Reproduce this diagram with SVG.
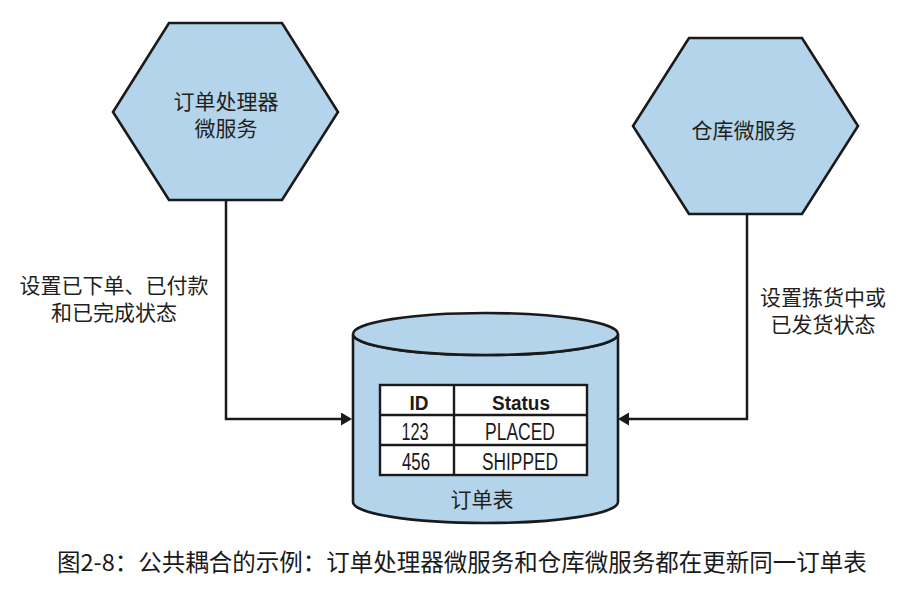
<svg xmlns="http://www.w3.org/2000/svg" width="919" height="594" viewBox="0 0 919 594">
<style>
.shape{fill:#b3d4ea;stroke:#1a1a1a;stroke-width:2.6;stroke-linejoin:miter}
.conn{fill:none;stroke:#1a1a1a;stroke-width:2.5}
.cjk{font-family:"Noto Sans CJK SC","Noto Sans",sans-serif;fill:#231f20;font-size:21px;text-anchor:middle}
.cap{font-family:"Noto Sans CJK SC","Noto Sans",sans-serif;fill:#1a1a1a;font-size:23.5px}
.tbl{font-family:"Liberation Sans","Noto Sans",sans-serif;fill:#1a1a1a;text-anchor:middle}
.hd{font-weight:bold;font-size:21px}
.rw{font-size:23px}
.cell{fill:#ffffff;stroke:#1a1a1a;stroke-width:2.4}
</style>
<defs>
<marker id="arrow" markerUnits="userSpaceOnUse" markerWidth="12" markerHeight="14" refX="3" refY="6.5" orient="auto">
<polygon points="0,0 11,6.5 0,13" fill="#1a1a1a"/>
</marker>
</defs>
<rect width="919" height="594" fill="#ffffff"/>
<g id="connectors">
<path class="conn" d="M226,200 V419 H344" marker-end="url(#arrow)"/>
<path class="conn" d="M747,214 V419 H626" marker-end="url(#arrow)"/>
<text class="cjk"><tspan x="114" y="293">设置已下单、已付款</tspan><tspan x="114" y="320">和已完成状态</tspan></text>
<text class="cjk"><tspan x="823" y="305">设置拣货中或</tspan><tspan x="823" y="332">已发货状态</tspan></text>
</g>
<g id="order-processor">
<polygon class="shape" points="169,23 282,23 338,112 282,200 169,200 113,112"/>
<text class="cjk"><tspan x="226" y="109">订单处理器</tspan><tspan x="226" y="136">微服务</tspan></text>
</g>
<g id="warehouse">
<polygon class="shape" points="689,38 802,38 858,126 802,214 689,214 633,126"/>
<text class="cjk" x="744" y="138">仓库微服务</text>
</g>
<g id="order-table">
<path class="shape" d="M353,334 V502 A132.5,21 0 0 0 618,502 V334 A132.5,21 0 0 1 353,334 Z"/>
<ellipse class="shape" cx="485.5" cy="334" rx="132.5" ry="21"/>
<rect class="cell" x="380" y="385" width="207" height="90"/>
<line x1="380" y1="415" x2="587" y2="415" stroke="#1a1a1a" stroke-width="2.4"/>
<line x1="380" y1="445" x2="587" y2="445" stroke="#1a1a1a" stroke-width="2.4"/>
<line x1="454" y1="385" x2="454" y2="475" stroke="#1a1a1a" stroke-width="2.4"/>
<text class="tbl hd" x="419" y="410" textLength="19" lengthAdjust="spacingAndGlyphs">ID</text>
<text class="tbl hd" x="521" y="410" textLength="58" lengthAdjust="spacingAndGlyphs">Status</text>
<text class="tbl rw" x="415" y="440" textLength="27" lengthAdjust="spacingAndGlyphs">123</text>
<text class="tbl rw" x="520" y="440" textLength="70" lengthAdjust="spacingAndGlyphs">PLACED</text>
<text class="tbl rw" x="416" y="470" textLength="28" lengthAdjust="spacingAndGlyphs">456</text>
<text class="tbl rw" x="520" y="470" textLength="76" lengthAdjust="spacingAndGlyphs">SHIPPED</text>
<text class="cjk" x="482" y="507">订单表</text>
</g>
<text class="cap" x="57" y="571">图2-8：公共耦合的示例：订单处理器微服务和仓库微服务都在更新同一订单表</text>
</svg>
